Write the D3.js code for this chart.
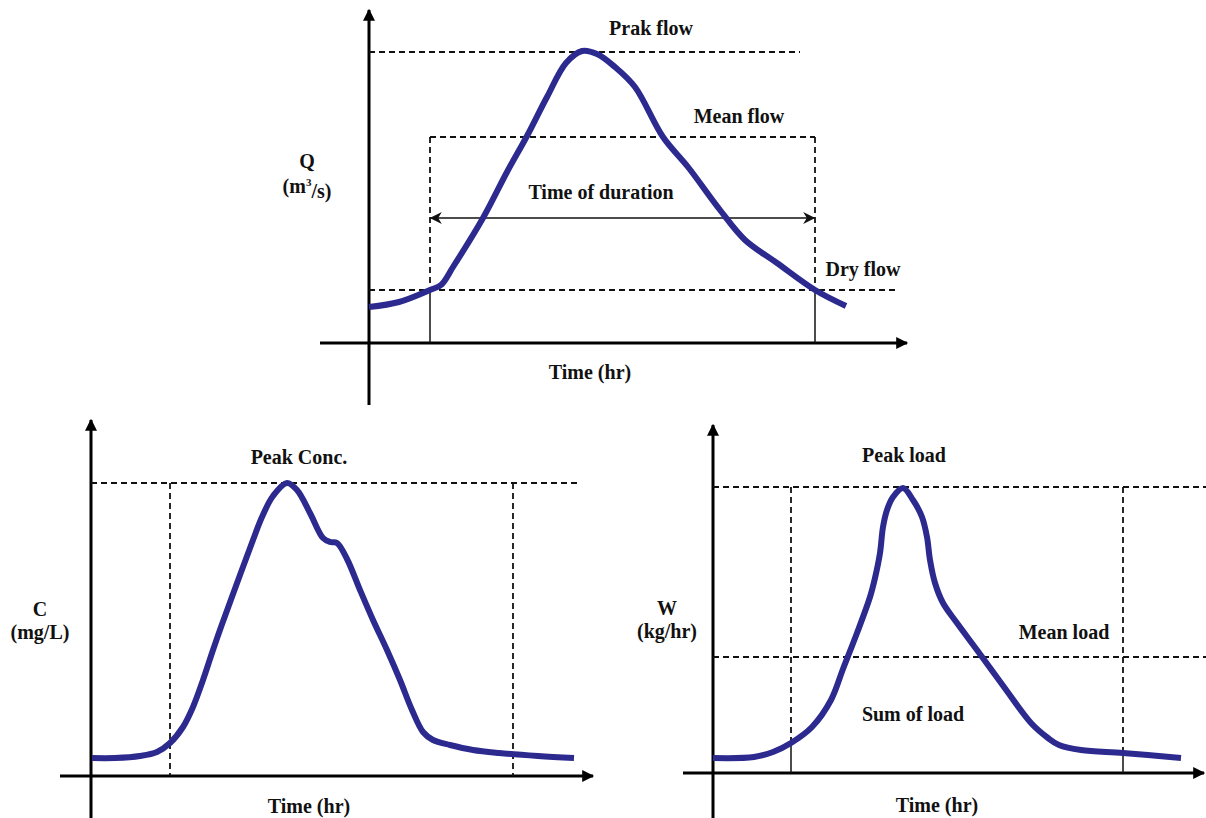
<!DOCTYPE html>
<meta charset="utf-8">
<style>
body { margin: 0; background: #fff; }
text {
  font-family: "Liberation Serif", "Times New Roman", serif;
  font-weight: bold;
  font-size: 20px;
  fill: #111;
}
.axis { stroke: #000; stroke-width: 3; }
.dash { stroke: #111; stroke-width: 1.8; stroke-dasharray: 6 4; fill: none; }
.thin { stroke: #111; stroke-width: 1.5; }
.curve { fill: none; stroke: #2c2a8e; stroke-width: 6; stroke-linejoin: round; stroke-linecap: butt; }
</style>
<svg width="1206" height="818"></svg>
<script src="https://d3js.org/d3.v7.min.js"></script>
<script>

// ---- data (time in hr-units, values in arbitrary units) ----
var qTime = [0, 3, 6.1, 7.2, 8.4, 11.4, 13.8, 15.8, 17.8, 19.7, 21.3, 22.8, 24.6, 26.6, 29.4, 31.9, 35.1, 37.6, 40.8, 44.6, 47.7];
var qFlow = [3.6, 4.1, 5.3, 5.8, 7.6, 12.5, 17.1, 20.7, 24.6, 28.0, 29.2, 28.9, 27.6, 25.6, 20.6, 17.6, 13.3, 10.3, 8.0, 5.3, 3.7];
var qRefs = { peak: 29.1, mean: 20.6, dry: 5.3, start: 6.1, end: 44.6, peakEnd: 43.1, dryEnd: 52.6, arrow: 12.5 };

var cTime = [0.1, 2.4, 4.9, 6.6, 7.9, 9.2, 10.2, 11.2, 12.1, 13.0, 14.9, 16.2, 17.1, 18.2, 19.6, 20.6, 21.9, 23.2, 23.9, 24.6, 25.6, 26.9, 28.2, 29.6, 30.9, 32.1, 33.2, 34.2, 35.9, 38.2, 40.8, 44.7, 48.3];
var cConc = [1.8, 1.8, 2.0, 2.4, 3.3, 4.9, 6.9, 9.6, 12.3, 14.9, 20.1, 23.6, 25.9, 28.0, 29.3, 28.6, 26.3, 23.8, 23.4, 23.3, 21.7, 18.6, 15.6, 12.6, 9.6, 6.6, 4.4, 3.6, 3.1, 2.6, 2.3, 2.0, 1.8];
var cRefs = { peak: 29.3, start: 7.9, end: 42.2, peakEnd: 48.7 };

var wTime = [0, 4.1, 6.0, 7.8, 9.9, 11.8, 13.0, 14.4, 15.7, 16.2, 16.7, 17.0, 17.4, 18.0, 19.0, 20.0, 20.9, 21.4, 21.7, 22.2, 23.0, 24.4, 26.4, 29.1, 31.8, 33.5, 34.6, 36.8, 41.0, 46.8];
var wLoad = [1.5, 1.6, 2.1, 3.0, 4.6, 7.3, 10.4, 14.0, 17.6, 19.5, 22.0, 24.6, 26.3, 27.6, 28.5, 27.3, 25.6, 23.6, 21.3, 19.0, 17.0, 15.0, 12.3, 8.6, 5.0, 3.5, 2.8, 2.3, 2.0, 1.5];
var wRefs = { peak: 28.6, mean: 11.6, start: 7.8, end: 41.0, lineEnd: 49.3 };

var svg = d3.select("svg");

var defs = svg.append("defs");
defs.append("marker")
    .attr("id", "axisArrow")
    .attr("viewBox", "0 0 10 10")
    .attr("refX", 9).attr("refY", 5)
    .attr("markerUnits", "userSpaceOnUse")
    .attr("markerWidth", 14).attr("markerHeight", 12)
    .attr("orient", "auto")
  .append("path").attr("d", "M0,0 L10,5 L0,10 z").attr("fill", "#000");
defs.append("marker")
    .attr("id", "durArrow")
    .attr("viewBox", "0 0 10 10")
    .attr("refX", 9).attr("refY", 5)
    .attr("markerUnits", "userSpaceOnUse")
    .attr("markerWidth", 14).attr("markerHeight", 12)
    .attr("orient", "auto-start-reverse")
  .append("path").attr("d", "M0,0 L10,5 L0,10 L3,5 z").attr("fill", "#111");

var line = d3.line().curve(d3.curveCatmullRom.alpha(0.5));

// one panel = scales + axes + curve
function panel(x0, y0, xMin, xMax, yMin, yMax, times, vals) {
  var x = d3.scaleLinear().domain([0, 10]).range([x0, x0 + 100]);
  var y = d3.scaleLinear().domain([0, 10]).range([y0, y0 - 100]);
  var g = svg.append("g");
  g.append("line").attr("class", "axis")
      .attr("x1", x(xMin)).attr("x2", x(xMax))
      .attr("y1", y(0)).attr("y2", y(0))
      .attr("marker-end", "url(#axisArrow)");
  g.append("line").attr("class", "axis")
      .attr("x1", x(0)).attr("x2", x(0))
      .attr("y1", y(yMin)).attr("y2", y(yMax))
      .attr("marker-end", "url(#axisArrow)");
  var p = { x: x, y: y, g: g };
  p.hDash = function(v, a, b) {
    g.append("line").attr("class", "dash")
        .attr("x1", x(a)).attr("x2", x(b)).attr("y1", y(v)).attr("y2", y(v));
  };
  p.vLine = function(t, a, b, cls) {
    g.append("line").attr("class", cls)
        .attr("x1", x(t)).attr("x2", x(t)).attr("y1", y(a)).attr("y2", y(b));
  };
  p.curve = function() {
    g.append("path").attr("class", "curve")
        .attr("d", line(times.map(function(t, i) { return [x(t), y(vals[i])]; })));
  };
  p.label = function(px, py, s) {
    return g.append("text").attr("x", px).attr("y", py).attr("dy", "0.35em")
        .attr("text-anchor", "middle").text(s);
  };
  return p;
}

/************* DISCHARGE ***************/
var q = panel(369, 343, -4.9, 53.8, -6.2, 33.3, qTime, qFlow);
q.hDash(qRefs.peak, 0, qRefs.peakEnd);
q.hDash(qRefs.mean, qRefs.start, qRefs.end);
q.hDash(qRefs.dry, 0, qRefs.dryEnd);
q.vLine(qRefs.start, qRefs.mean, qRefs.dry, "dash");
q.vLine(qRefs.end, qRefs.mean, qRefs.dry, "dash");
q.vLine(qRefs.start, qRefs.dry, 0, "thin");
q.vLine(qRefs.end, qRefs.dry, 0, "thin");
q.g.append("line").attr("class", "thin")
    .attr("x1", q.x(qRefs.start) + 1).attr("x2", q.x(qRefs.end) - 1)
    .attr("y1", q.y(qRefs.arrow)).attr("y2", q.y(qRefs.arrow))
    .attr("marker-start", "url(#durArrow)")
    .attr("marker-end", "url(#durArrow)");
q.curve();
q.label(651, 28, "Prak flow");
q.label(739, 116, "Mean flow");
q.label(601, 192, "Time of duration");
q.label(863, 269, "Dry flow");
q.label(307, 161, "Q");
var unit = q.label(307, 186, "(m");
unit.append("tspan").attr("font-size", 11).attr("dy", "-0.6em").text("3");
unit.append("tspan").attr("dy", "0.6em").text("/s)");
q.label(590, 372, "Time (hr)");

/************* CONCENTRATION ***************/
var c = panel(91, 776, -3.1, 50.2, -4.2, 35.6, cTime, cConc);
c.hDash(cRefs.peak, 0, cRefs.peakEnd);
c.vLine(cRefs.start, cRefs.peak, 0, "dash");
c.vLine(cRefs.end, cRefs.peak, 0, "dash");
c.curve();
c.label(299, 457, "Peak Conc.");
c.label(40, 609, "C");
c.label(40, 632, "(mg/L)");
c.label(309, 806, "Time (hr)");

/************* LOAD ***************/
var w = panel(713, 773, -3, 49.1, -4.5, 34.8, wTime, wLoad);
w.hDash(wRefs.peak, 0, wRefs.lineEnd);
w.hDash(wRefs.mean, 0, wRefs.lineEnd);
w.vLine(wRefs.start, wRefs.peak, 3.0, "dash");
w.vLine(wRefs.end, wRefs.peak, 2.0, "dash");
w.vLine(wRefs.start, 3.0, 0, "thin");
w.vLine(wRefs.end, 2.0, 0, "thin");
w.curve();
w.label(904, 455, "Peak load");
w.label(1064, 632, "Mean load");
w.label(913, 714, "Sum of load");
w.label(667, 608, "W");
w.label(667, 631, "(kg/hr)");
w.label(937, 805, "Time (hr)");

</script>
